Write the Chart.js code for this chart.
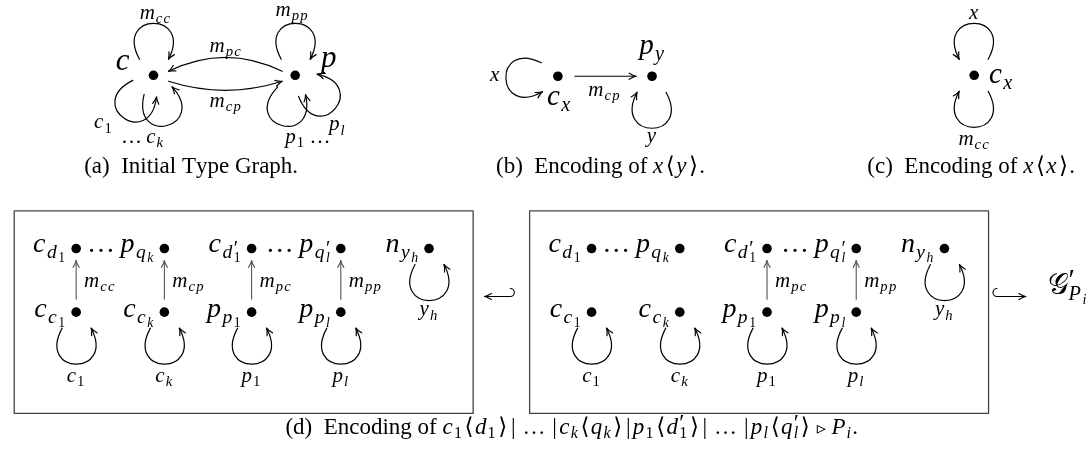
<!DOCTYPE html>
<html>
<head>
<meta charset="utf-8">
<script src="https://cdn.jsdelivr.net/npm/chart.js@4.4.1/dist/chart.umd.min.js"></script>
<style>
  html, body { margin: 0; padding: 0; background: #fff; }
  #wrap { width: 1089px; height: 454px; }
</style>
</head>
<body>
<div id="wrap"><canvas id="graph"></canvas></div>
<script>
// nodes: (a) type graph, (b) x<y>, (c) x<x>, (d) left box, (d) right box
const nodeNames = ['c', 'p', 'c_x', 'p_y', 'c_x',
    'c_d1', 'p_qk', "c_d1'", "p_ql'", 'n_yh', 'c_c1', 'c_ck', 'p_p1', 'p_pl',
    'c_d1', 'p_qk', "c_d1'", "p_ql'", 'n_yh', 'c_c1', 'c_ck', 'p_p1', 'p_pl'];
const nodeX = [150, 293, 558, 653, 978,
    72, 161, 249, 339, 428, 72, 161, 249, 339,
    592, 681, 769, 859, 948, 592, 681, 769, 859];
const nodeY = [72, 72, 73, 73, 72,
    249, 249, 249, 249, 249, 314, 314, 314, 314,
    249, 249, 249, 249, 249, 314, 314, 314, 314];

// edges between two nodes
const edgeFrom = [1, 0, 2, 10, 11, 12, 13, 21, 22];
const edgeTo = [0, 1, 3, 5, 6, 7, 8, 16, 17];
const edgeLabel = ['m_{pc}', 'm_{cp}', 'm_{cp}', 'm_{cc}', 'm_{cp}', 'm_{pc}', 'm_{pp}', 'm_{pc}', 'm_{pp}'];

// self loops
const loopNode = [0, 0, 0, 1, 1, 1, 2, 3, 4, 4, 9, 10, 11, 12, 13, 18, 19, 20, 21, 22];
const loopLabel = ['m_{cc}', 'c_1', '…c_k', 'm_{pp}', 'p_1…', 'p_l', 'x', 'y', 'x', 'm_{cc}',
    'y_h', 'c_1', 'c_k', 'p_1', 'p_l', 'y_h', 'c_1', 'c_k', 'p_1', 'p_l'];

// node captions
const nodeLabel = ['c', 'p', 'c_x', 'p_y', 'c_x',
    'c_{d_1}', '…p_{q_k}', 'c_{d^′_1}', '…p_{q^′_l}', 'n_{y_h}', 'c_{c_1}', 'c_{c_k}', 'p_{p_1}', 'p_{p_l}',
    'c_{d_1}', '…p_{q_k}', 'c_{d^′_1}', '…p_{q^′_l}', 'n_{y_h}', 'c_{c_1}', 'c_{c_k}', 'p_{p_1}', 'p_{p_l}'];

const captions = ['(a)  Initial Type Graph.', '(b)  Encoding of $x⟨y⟩$.', '(c)  Encoding of $x⟨x⟩$.',
    '(d)  Encoding of $c_1⟨d_1⟩|…|c_k⟨q_k⟩|p_1⟨d^′_1⟩|…|p_l⟨q^′_l⟩▹P_i$.'];

const SERIF = '"Liberation Serif", "DejaVu Serif", "DejaVu Sans"';

// is a glyph really in one of the fonts? compare with an unassigned code point
function hasGlyph(ch) {
    const c = document.createElement('canvas');
    c.width = 60; c.height = 60;
    const g = c.getContext('2d');
    const draw = s => {
        g.clearRect(0, 0, 60, 60);
        g.font = '40px ' + SERIF;
        g.fillText(s, 5, 45);
        return g.getImageData(0, 0, 60, 60).data.join(',');
    };
    return draw(ch) !== draw('\u{10FFFD}');
}
const scriptG = hasGlyph('𝒢') ? '𝒢' : 'G';

// tiny TeX-like typesetter: $..$ = math (italic letters), _ and ^ with {}
function typeset(ctx, text, x, y, size, align) {
    const str = Array.from(text);
    const runs = [];
    let pen = 0;
    let math = false;
    function glyph(ch, sz, dy) {
        const ital = math && /[A-Za-z]/.test(ch);
        let s = sz;
        let before = 0, after = 0;
        if (ch === '▹') { s = sz * 0.8; before = after = 0.24 * sz; }
        if (ch === '′') { s = sz * 1.45; dy += sz * 0.3; }
        if (math) {
            if (/[A-Za-z0-9]/.test(ch)) after = (sz < size * 0.9 ? 0.08 : 0.05) * sz;
            if (ch === '⟨' || ch === '⟩') before = after = 0.06 * sz;
            if (ch === '|') before = after = 0.1 * sz;
            if (ch === '…') before = after = 0.2 * sz;
        }
        const font = (ital ? 'italic ' : '') + s.toFixed(1) + 'px ' + SERIF;
        ctx.font = font;
        const w = ctx.measureText(ch).width;
        pen += before;
        runs.push({ ch: ch, font: font, x: pen, dy: dy });
        pen += w + after;
    }
    function group(i, sz, dy) {
        let lastSup = null;
        while (i < str.length) {
            const ch = str[i];
            if (ch === '}') return i + 1;
            if (ch === '$') { math = !math; i++; continue; }
            if (ch === '_' || ch === '^') {
                const nsz = sz * 0.7;
                const ndy = dy + (ch === '_' ? sz * 0.21 : -sz * 0.36);
                const start = pen;
                if (ch === '_' && lastSup) pen = lastSup.start;
                i++;
                if (str[i] === '{') i = group(i + 1, nsz, ndy);
                else { glyph(str[i], nsz, ndy); i++; }
                if (ch === '^') lastSup = { start: start, end: pen };
                else {
                    if (lastSup) pen = Math.max(pen, lastSup.end);
                    lastSup = null;
                }
                continue;
            }
            lastSup = null;
            glyph(ch, sz, dy);
            i++;
        }
        return i;
    }
    group(0, size, 0);
    let x0 = x;
    if (align === 'center') x0 = x - pen / 2;
    if (align === 'right') x0 = x - pen;
    ctx.textBaseline = 'alphabetic';
    ctx.textAlign = 'left';
    runs.forEach(r => {
        ctx.font = r.font;
        ctx.fillText(r.ch, x0 + r.x, y + r.dy);
    });
}

function arrowHead(ctx, tx, ty, ang) {
    const len = 7.5, spread = 0.42;
    ctx.beginPath();
    ctx.moveTo(tx - len * Math.cos(ang - spread), ty - len * Math.sin(ang - spread));
    ctx.quadraticCurveTo(tx - 2.5 * Math.cos(ang - 0.15), ty - 2.5 * Math.sin(ang - 0.15), tx, ty);
    ctx.quadraticCurveTo(tx - 2.5 * Math.cos(ang + 0.15), ty - 2.5 * Math.sin(ang + 0.15),
        tx - len * Math.cos(ang + spread), ty - len * Math.sin(ang + spread));
    ctx.stroke();
}

function hook(ctx, x1, x2, y, dir) {
    // dir = -1: hook on the right, head on the left; dir = 1 the opposite
    const tail = dir < 0 ? x2 : x1, head = dir < 0 ? x1 : x2;
    ctx.beginPath();
    ctx.moveTo(tail, y);
    ctx.lineTo(head, y);
    ctx.stroke();
    ctx.beginPath();
    ctx.arc(tail, y - 4, 4, Math.PI / 2, -Math.PI / 2, dir < 0);
    ctx.stroke();
    arrowHead(ctx, head, y, dir < 0 ? Math.PI : 0);
}

const diagramPlugin = {
    id: 'diagram',
    beforeDatasetsDraw(chart) {
        const ctx = chart.ctx;
        const sx = chart.scales.x, sy = chart.scales.y;
        const X = v => sx.getPixelForValue(v), Y = v => sy.getPixelForValue(v);
        ctx.save();
        ctx.lineCap = 'round';
        ctx.lineJoin = 'round';

        // the two frames of (d)
        ctx.strokeStyle = '#444';
        ctx.lineWidth = 1.3;
        [9.5, 529.5].forEach(left => {
            ctx.strokeRect(X(left), Y(210.5), X(left + 463) - X(left), Y(417.5) - Y(210.5));
        });

        // edges
        edgeFrom.forEach((a, i) => {
            const b = edgeTo[i];
            const ax = X(nodeX[a]), ay = Y(nodeY[a]), bx = X(nodeX[b]), by = Y(nodeY[b]);
            const len = Math.hypot(bx - ax, by - ay);
            const dx = (bx - ax) / len, dy = (by - ay) / len;
            const nx = dy, ny = -dx;
            let shift = 0, bend = 0, g1 = 13, g2 = 12;
            if (i === 0) { shift = -4; bend = -14; g1 = 13; g2 = 15; }
            if (i === 1) { shift = -6; bend = -9; g1 = 15; g2 = 13; }
            if (i === 2) { g1 = 17; g2 = 16; }
            const sx0 = ax + dx * g1 + nx * shift, sy0 = ay + dy * g1 + ny * shift;
            const ex = bx - dx * g2 + nx * shift, ey = by - dy * g2 + ny * shift;
            const cx = (sx0 + ex) / 2 + nx * bend * 2, cy = (sy0 + ey) / 2 + ny * bend * 2;
            ctx.strokeStyle = i >= 3 ? '#555' : '#000';
            ctx.lineWidth = i >= 3 ? 1.1 : 1.2;
            ctx.beginPath();
            ctx.moveTo(sx0, sy0);
            ctx.quadraticCurveTo(cx, cy, ex, ey);
            ctx.stroke();
            arrowHead(ctx, ex, ey, Math.atan2(ey - cy, ex - cx));
        });

        // loops
        const loopAngle = [-90, 125, 75, -90, 105, 40, 178, 90, -90, 90,
            90, 90, 90, 90, 90, 90, 90, 90, 90, 90];
        const loopSide = [1, -1, -1, 1, -1, -1, -1, 1, -1, 1,
            -1, -1, -1, -1, -1, -1, -1, -1, -1, -1];
        ctx.strokeStyle = '#000';
        ctx.lineWidth = 1.2;
        loopNode.forEach((n, i) => {
            const px = X(nodeX[n]), py = Y(nodeY[n]);
            const t = loopAngle[i] * Math.PI / 180;
            const ux = Math.cos(t), uy = Math.sin(t);
            const vx = -uy * loopSide[i], vy = ux * loopSide[i];
            const P = (a, b) => [px + a * ux + b * vx, py + a * uy + b * vy];
            const p0 = P(16, -14), c1 = P(64, -40), c2 = P(64, 40), p3 = P(16, 15);
            ctx.beginPath();
            ctx.moveTo(p0[0], p0[1]);
            ctx.bezierCurveTo(c1[0], c1[1], c2[0], c2[1], p3[0], p3[1]);
            ctx.stroke();
            arrowHead(ctx, p3[0], p3[1], Math.atan2(p3[1] - c2[1], p3[0] - c2[0]));
        });

        // hook arrows of (d)
        ctx.lineWidth = 1.1;
        hook(ctx, X(484), X(510), Y(298), -1);
        hook(ctx, X(1001), X(1030), Y(298), 1);
        ctx.restore();
    },
    afterDatasetsDraw(chart) {
        const ctx = chart.ctx;
        const sx = chart.scales.x, sy = chart.scales.y;
        const X = v => sx.getPixelForValue(v), Y = v => sy.getPixelForValue(v);
        ctx.save();
        ctx.fillStyle = '#000';
        const T = (s, x, y, size, align) => typeset(ctx, '$' + s + '$', X(x), Y(y), size, align);

        // node labels
        T(nodeLabel[0], 112, 67, 31, 'left');
        T(nodeLabel[1], 319, 64, 31, 'left');
        T(nodeLabel[2], 547, 102, 29, 'left');
        T(nodeLabel[3], 640, 50, 29, 'left');
        T(nodeLabel[4], 993, 80, 29, 'left');
        for (let i = 5; i < nodeLabel.length; i++) {
            T(nodeLabel[i], nodeX[i] - 10, nodeY[i] + (nodeY[i] < 300 ? 4 : 5), 28, 'right');
        }

        // edge labels
        T(edgeLabel[0], 223, 48, 21, 'center');
        T(edgeLabel[1], 223, 104, 21, 'center');
        T(edgeLabel[2], 605, 93, 21, 'center');
        for (let i = 3; i < edgeLabel.length; i++) {
            T(edgeLabel[i], nodeX[edgeFrom[i]] + 8, 288, 21, 'left');
        }

        // loop labels
        T(loopLabel[0], 152, 14, 21, 'center');
        T(loopLabel[1], 90, 126, 21, 'left');
        T(loopLabel[2], 113, 141, 21, 'left');
        T(loopLabel[3], 290, 11, 21, 'center');
        T(loopLabel[4], 283, 141, 21, 'left');
        T(loopLabel[5], 327, 128, 21, 'left');
        T(loopLabel[6], 500, 78, 21, 'right');
        T(loopLabel[7], 653, 140, 21, 'center');
        T(loopLabel[8], 978, 15, 21, 'center');
        T(loopLabel[9], 978, 143, 21, 'center');
        for (let i = 10; i < loopLabel.length; i++) {
            const n = loopNode[i];
            T(loopLabel[i], nodeX[n], nodeY[n] < 300 ? 317 : 385, 21, 'center');
        }

        // G'_{P_i}
        T(scriptG + '^′_{P_i}', 1052, 295, 29, 'left');

        // sub captions
        typeset(ctx, captions[0], X(188), Y(172), 23, 'center');
        typeset(ctx, captions[1], X(601), Y(172), 23, 'center');
        typeset(ctx, captions[2], X(975), Y(172), 23, 'center');
        typeset(ctx, captions[3], X(572), Y(438), 23, 'center');
        ctx.restore();
    }
};

const ctx = document.getElementById('graph').getContext('2d');
new Chart(ctx, {
    type: 'scatter',
    data: {
        datasets: [{
            label: 'nodes',
            data: nodeX.map((x, i) => ({ x: x, y: nodeY[i] })),
            pointRadius: 4.8,
            pointBackgroundColor: '#000',
            pointBorderWidth: 0,
            showLine: false
        }]
    },
    options: {
        responsive: true,
        maintainAspectRatio: false,
        animation: false,
        events: [],
        layout: { padding: 0 },
        plugins: { legend: { display: false }, tooltip: { enabled: false } },
        scales: {
            x: { type: 'linear', min: 0, max: 1089, display: false },
            y: { type: 'linear', min: 0, max: 454, reverse: true, display: false }
        }
    },
    plugins: [diagramPlugin]
});
</script>
</body>
</html>
